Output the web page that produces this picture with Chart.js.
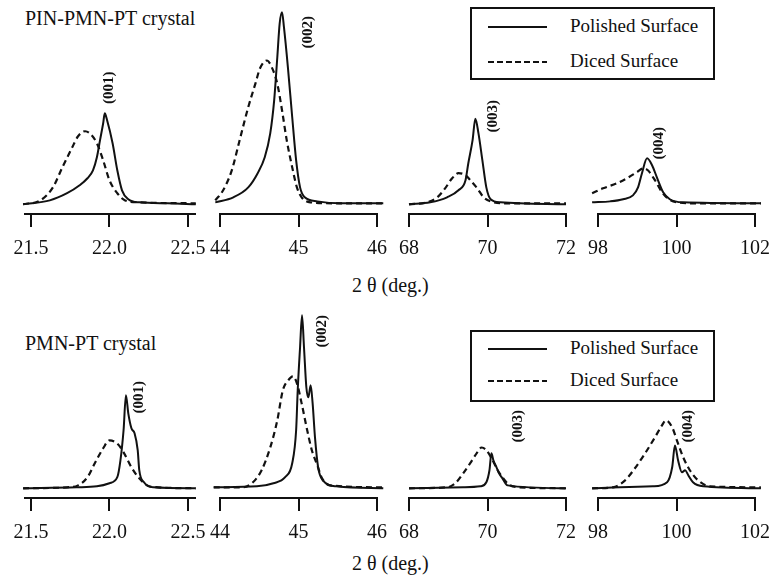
<!DOCTYPE html>
<html><head><meta charset="utf-8">
<script src="https://cdn.jsdelivr.net/npm/chart.js@4.4.0/dist/chart.umd.min.js"></script>
<style>
html,body{margin:0;padding:0;background:#fff;}
body{width:775px;height:583px;position:relative;overflow:hidden;font-family:"Liberation Serif","DejaVu Serif",serif;color:#111;}
canvas{position:absolute;}
.txt{position:absolute;white-space:nowrap;font-size:20px;line-height:20px;}
.legend{position:absolute;left:470px;width:245px;height:73px;border:2px solid #111;box-sizing:border-box;background:#fff;}
.ls{position:absolute;left:16px;width:59px;height:2px;background:#111;}
.ld{position:absolute;left:16px;width:59px;height:2px;background:repeating-linear-gradient(to right,#111 0 6px,transparent 6px 9px);}
.lt{position:absolute;left:98px;font-size:19px;line-height:20px;white-space:nowrap;}
</style>
</head><body>
<div class="txt" style="left:25px;top:8px;">PIN-PMN-PT crystal</div>
<div class="txt" style="left:25px;top:333px;">PMN-PT crystal</div>
<div class="txt" style="left:352px;top:275px;">2 θ (deg.)</div>
<div class="txt" style="left:352px;top:553px;">2 θ (deg.)</div>
<div class="legend" style="top:7px;">
  <div class="ls" style="top:17px;"></div><div class="lt" style="top:7px;">Polished Surface</div>
  <div class="ld" style="top:52px;"></div><div class="lt" style="top:42px;">Diced Surface</div>
</div>
<div class="legend" style="top:330px;height:72px;">
  <div class="ls" style="top:16px;"></div><div class="lt" style="top:6px;">Polished Surface</div>
  <div class="ld" style="top:48px;"></div><div class="lt" style="top:38px;">Diced Surface</div>
</div>
<script>
// ---------- DATA (2θ in degrees, intensity in arbitrary units) ----------
// Row 1: PIN-PMN-PT crystal
const pinPol001Deg = [21.45, 21.62, 21.73, 21.81, 21.86, 21.895, 21.92, 21.94, 21.96, 21.97, 21.985, 22.02, 22.05, 22.08, 22.12, 22.19, 22.37, 22.55];
const pinPol001Int = [0, 2, 5.7, 9.8, 13.4, 17.5, 24.2, 33, 41.7, 46.8, 43.2, 31.4, 17.5, 7.2, 2.6, 1, 0.5, 0];
const pinDic001Deg = [21.45, 21.56, 21.64, 21.70, 21.76, 21.80, 21.845, 21.875, 21.92, 21.96, 22.0, 22.05, 22.10, 22.19, 22.55];
const pinDic001Int = [0, 2, 8.7, 19, 28.8, 35, 37.6, 36.5, 31.4, 22.6, 12.4, 5.7, 2, 1, 0.5];

const pinPol002Deg = [43.94, 44.17, 44.36, 44.48, 44.57, 44.64, 44.69, 44.73, 44.76, 44.79, 44.815, 44.865, 44.92, 44.97, 45.02, 45.08, 45.24, 45.53, 46.08];
const pinPol002Int = [1, 3.6, 8.7, 16, 24.2, 36.5, 53.5, 75.7, 93, 98.8, 91, 70.5, 44.8, 22.6, 8.7, 3.6, 1.5, 0.5, 0.5];
const pinDic002Deg = [43.94, 44.04, 44.15, 44.25, 44.36, 44.45, 44.51, 44.60, 44.66, 44.73, 44.79, 44.85, 44.92, 44.98, 45.04, 45.15, 45.5, 46.08];
const pinDic002Int = [2, 7.2, 17.5, 33, 50, 62, 70, 74, 70.5, 62, 48.4, 33, 19, 8.7, 3.6, 1, 0.5, 0.5];

const pinPol003Deg = [68.0, 68.54, 68.97, 69.26, 69.44, 69.51, 69.62, 69.69, 69.77, 69.87, 69.97, 70.08, 70.33, 72.0];
const pinPol003Int = [0, 1, 3.6, 7.2, 12.4, 21, 33, 44, 36.5, 22.6, 8.7, 2.6, 1, 0];
const pinDic003Deg = [68.0, 68.46, 68.72, 68.92, 69.10, 69.26, 69.44, 69.56, 69.74, 69.90, 70.08, 70.5, 72.0];
const pinDic003Int = [0, 1, 3.6, 8.2, 13.4, 16, 15, 12.4, 8.2, 3.6, 1.5, 0.5, 0.5];

const pinPol004Deg = [97.85, 98.31, 98.64, 98.89, 99.02, 99.12, 99.25, 99.38, 99.50, 99.66, 99.83, 100.17, 102.15];
const pinPol004Int = [1, 1.5, 2.6, 4.6, 8.7, 16, 23.7, 20, 13.9, 6.2, 2.6, 1, 0.5];
const pinDic004Deg = [97.85, 98.13, 98.48, 98.74, 98.99, 99.15, 99.27, 99.45, 99.63, 99.78, 100.01, 100.5, 102.15];
const pinDic004Int = [5.7, 8.2, 10.8, 13.4, 16.5, 18.5, 17.5, 12.4, 6.2, 3, 1, 0.5, 0.5];

// Row 2: PMN-PT crystal
const pmnPol001Deg = [21.45, 21.79, 21.92, 22.0, 22.05, 22.07, 22.09, 22.105, 22.12, 22.14, 22.16, 22.18, 22.19, 22.22, 22.28, 22.55];
const pmnPol001Int = [0, 0.5, 1, 2.6, 5.7, 14.4, 30, 47.9, 38.6, 30.9, 28.3, 19.6, 9.3, 3.1, 0.5, 0];
const pmnDic001Deg = [21.45, 21.73, 21.80, 21.86, 21.91, 21.96, 22.0, 22.05, 22.09, 22.14, 22.19, 22.24, 22.31, 22.55];
const pmnDic001Int = [0, 0.5, 1.5, 5.7, 13.4, 20.6, 24.7, 23, 18.5, 10.8, 5.1, 1.5, 0.5, 0];

const pmnPol002Deg = [43.92, 44.47, 44.68, 44.83, 44.92, 44.97, 44.99, 45.02, 45.045, 45.07, 45.10, 45.125, 45.155, 45.18, 45.21, 45.25, 45.31, 45.49, 46.08];
const pmnPol002Int = [0.5, 1, 2.6, 5.7, 12.9, 30, 50.4, 72.6, 89, 72.6, 52, 46.8, 53, 43.7, 26.2, 10.8, 4.1, 1, 0];
const pmnDic002Deg = [43.92, 44.29, 44.42, 44.53, 44.64, 44.73, 44.80, 44.87, 44.93, 44.98, 45.04, 45.11, 45.17, 45.24, 45.30, 45.40, 46.08];
const pmnDic002Int = [0.5, 0.5, 3.1, 9.3, 21, 35, 50.4, 55.6, 57.6, 54, 43.7, 30, 19.6, 11.8, 5.1, 1.5, 0.5];

const pmnPol003Deg = [68.0, 69.38, 69.82, 69.97, 70.05, 70.10, 70.15, 70.23, 70.28, 70.38, 70.51, 72.0];
const pmnPol003Int = [0, 0.5, 1, 3.1, 9.3, 18, 14.4, 10.8, 8.2, 5.1, 1.5, 0];
const pmnDic003Deg = [68.0, 68.97, 69.18, 69.38, 69.56, 69.74, 69.85, 69.97, 70.13, 70.26, 70.38, 70.54, 70.8, 72.0];
const pmnDic003Int = [0, 0.5, 2.6, 7.7, 12.9, 18.5, 21, 19.6, 14.4, 9.3, 5.7, 2, 0.5, 0];

const pmnPol004Deg = [97.85, 98.56, 99.40, 99.76, 99.89, 99.96, 100.04, 100.14, 100.22, 100.30, 100.42, 100.68, 102.15];
const pmnPol004Int = [0, 0.5, 1, 3.1, 10.8, 22, 14.4, 8.2, 9.3, 6.7, 3.1, 1, 0];
const pmnDic004Deg = [97.85, 98.38, 98.69, 98.94, 99.20, 99.45, 99.63, 99.73, 99.89, 100.01, 100.17, 100.34, 100.55, 100.85, 102.15];
const pmnDic004Int = [0, 0.5, 4.1, 10.3, 18, 26.2, 32.4, 35, 31.4, 24.7, 16, 9.3, 4.1, 1, 0.5];

// Axis ranges and ticks per column
const axisMin = [21.462, 44, 68, 98];
const axisMax = [22.545, 46, 72, 102];
const tickValues = [[21.5, 22.0, 22.5], [44, 45, 46], [68, 70, 72], [98, 100, 102]];
const tickLabels = [['21.5', '22.0', '22.5'], ['44', '45', '46'], ['68', '70', '72'], ['98', '100', '102']];
const reflections = ['(001)', '(002)', '(003)', '(004)'];
// peak-label anchors in data units [2θ, intensity]
const pinLabelAt = [[22.0, 60], [45.12, 88.5], [70.15, 45.3], [99.55, 31.4]];
const pmnLabelAt = [[22.19, 46.8], [45.30, 80.8], [70.77, 31.9], [100.29, 31.9]];

// ---------- LAYOUT ----------
const PANEL_LEFT = [25, 220, 409, 598];
const PANEL_WIDTH = [170, 157, 157, 157];
const ROW_TOP = [0, 284];
const PADX = 25, CANVAS_H = 264, AXIS_H = 50;

const zip = (xs, ys) => xs.map((x, i) => ({x: x, y: ys[i]}));

const peakLabelPlugin = {
  id: 'peakLabel',
  afterDatasetsDraw(chart, args, opts) {
    if (!opts || !opts.text) return;
    const {ctx, scales} = chart;
    ctx.save();
    ctx.translate(scales.x.getPixelForValue(opts.at[0]), scales.y.getPixelForValue(opts.at[1]));
    ctx.rotate(-Math.PI / 2);
    ctx.font = 'bold 15px "Liberation Serif", serif';
    ctx.textAlign = 'center';
    ctx.textBaseline = 'middle';
    ctx.fillStyle = '#111';
    ctx.fillText(opts.text, 0, 0);
    ctx.restore();
  }
};

function makePanel(row, col, polDeg, polInt, dicDeg, dicInt, labelAt) {
  const cv = document.createElement('canvas');
  const w = PANEL_WIDTH[col] + 2 * PADX;
  cv.width = w; cv.height = CANVAS_H;
  cv.style.width = w + 'px'; cv.style.height = CANVAS_H + 'px';
  cv.style.left = (PANEL_LEFT[col] - PADX) + 'px';
  cv.style.top = ROW_TOP[row] + 'px';
  document.body.appendChild(cv);
  new Chart(cv, {
    type: 'line',
    data: {datasets: [
      {label: 'Polished Surface', data: zip(polDeg, polInt), borderColor: '#111', borderWidth: 2,
       pointRadius: 0, cubicInterpolationMode: 'monotone', clip: false, fill: false},
      {label: 'Diced Surface', data: zip(dicDeg, dicInt), borderColor: '#111', borderWidth: 2.2, borderDash: [6, 4],
       pointRadius: 0, cubicInterpolationMode: 'monotone', clip: false, fill: false}
    ]},
    options: {
      responsive: false, animation: false, devicePixelRatio: 1,
      layout: {padding: {left: PADX, right: PADX, top: 10, bottom: 0}},
      plugins: {legend: {display: false}, tooltip: {enabled: false},
                peakLabel: {text: reflections[col], at: labelAt}},
      scales: {
        x: {
          type: 'linear', min: axisMin[col], max: axisMax[col],
          afterBuildTicks: s => { s.ticks = tickValues[col].map(v => ({value: v})); },
          afterFit: s => { s.height = AXIS_H; },
          ticks: {autoSkip: false, maxRotation: 0, minRotation: 0, padding: 10, color: '#111',
                  font: {family: '"Liberation Serif", serif', size: 20},
                  callback: (v, i) => tickLabels[col][i]},
          grid: {drawOnChartArea: false, drawTicks: true, tickLength: 13, color: '#111', lineWidth: 2},
          border: {display: true, color: '#111', width: 2}
        },
        y: {display: false, min: -5, max: 100}
      }
    },
    plugins: [peakLabelPlugin]
  });
}

makePanel(0, 0, pinPol001Deg, pinPol001Int, pinDic001Deg, pinDic001Int, pinLabelAt[0]);
makePanel(0, 1, pinPol002Deg, pinPol002Int, pinDic002Deg, pinDic002Int, pinLabelAt[1]);
makePanel(0, 2, pinPol003Deg, pinPol003Int, pinDic003Deg, pinDic003Int, pinLabelAt[2]);
makePanel(0, 3, pinPol004Deg, pinPol004Int, pinDic004Deg, pinDic004Int, pinLabelAt[3]);
makePanel(1, 0, pmnPol001Deg, pmnPol001Int, pmnDic001Deg, pmnDic001Int, pmnLabelAt[0]);
makePanel(1, 1, pmnPol002Deg, pmnPol002Int, pmnDic002Deg, pmnDic002Int, pmnLabelAt[1]);
makePanel(1, 2, pmnPol003Deg, pmnPol003Int, pmnDic003Deg, pmnDic003Int, pmnLabelAt[2]);
makePanel(1, 3, pmnPol004Deg, pmnPol004Int, pmnDic004Deg, pmnDic004Int, pmnLabelAt[3]);
</script>
</body></html>
